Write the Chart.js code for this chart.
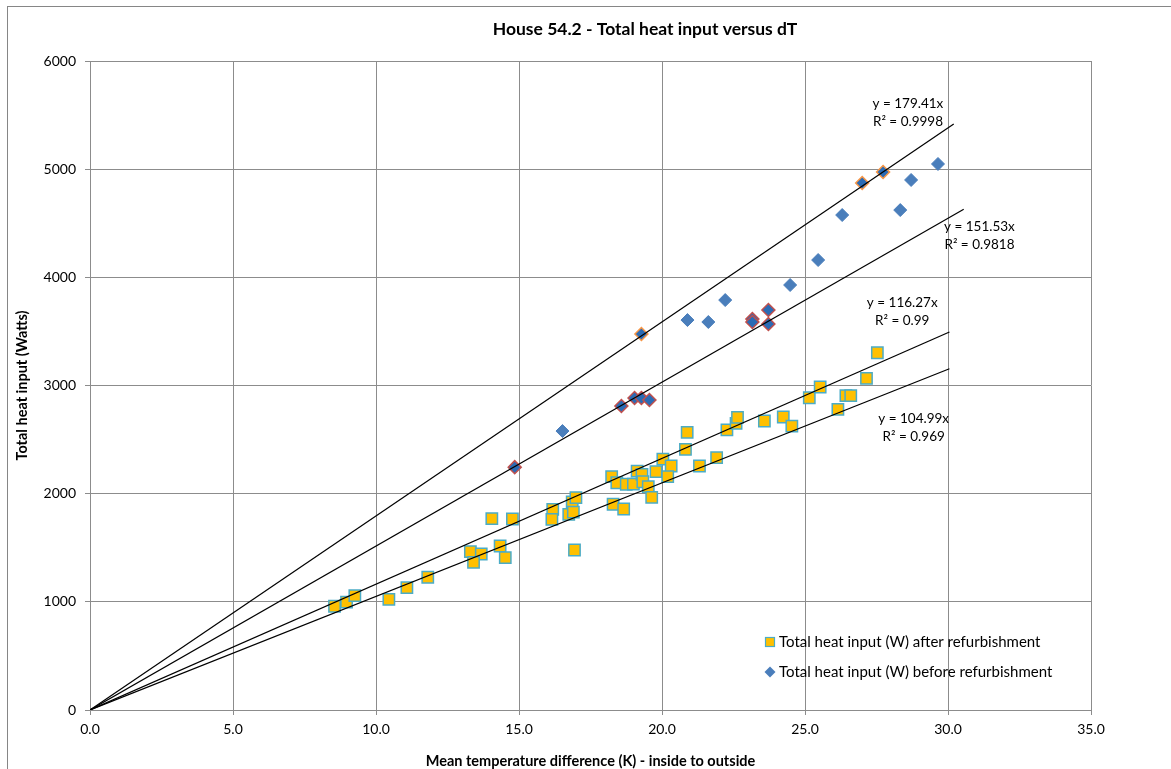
<!DOCTYPE html>
<html>
<head>
<meta charset="utf-8">
<title>House 54.2 - Total heat input versus dT</title>
<script src="https://cdn.jsdelivr.net/npm/chart.js@4.4.0/dist/chart.umd.min.js"></script>
<style>
  html, body { margin: 0; padding: 0; background: #fff; }
  canvas { display: block; }
</style>
</head>
<body>
<canvas id="grafico" width="1171" height="769"></canvas>
<script>
// after refurbishment (squares) : [dT, watts]
const afterRefurb = [
  [8.55, 959], [8.97, 998], [9.26, 1057], [10.45, 1023], [11.08, 1131], [11.81, 1227],
  [13.30, 1464], [13.68, 1442], [13.41, 1365], [14.05, 1769], [14.34, 1516], [14.52, 1408],
  [14.77, 1766], [16.18, 1855], [16.15, 1762], [16.74, 1808], [16.86, 1923], [16.99, 1963],
  [16.90, 1830], [16.94, 1479], [18.24, 2157], [18.42, 2101], [18.29, 1902], [18.66, 1858],
  [18.75, 2087], [19.00, 2089], [19.13, 2209], [19.30, 2179], [19.33, 2110], [19.52, 2065],
  [19.64, 1966], [19.79, 2203], [20.03, 2320], [20.32, 2256], [20.20, 2157], [20.88, 2567],
  [20.82, 2410], [21.31, 2256], [21.91, 2333], [22.27, 2589], [22.59, 2650], [22.64, 2705],
  [23.58, 2672], [24.24, 2709], [24.54, 2625], [25.15, 2887], [25.53, 2986], [26.15, 2780],
  [26.43, 2906], [26.60, 2906], [27.15, 3066], [27.53, 3303]
];

// before refurbishment (diamonds), split the same way as the workbook's series
const beforePlain = [
  [16.52, 2579], [20.89, 3605], [21.62, 3587], [22.21, 3790], [24.48, 3929],
  [25.46, 4160], [26.30, 4576], [28.33, 4622], [28.71, 4900], [29.65, 5048]
];
const beforeRed = [
  [14.85, 2245], [18.58, 2810], [19.04, 2884], [19.28, 2884], [19.56, 2866],
  [23.16, 3615], [23.16, 3587], [23.72, 3698], [23.72, 3568]
];
const beforeOrange = [
  [19.28, 3476], [27.00, 4872], [27.73, 4974]
];

// trendlines through origin
const trendSlopes = [179.41, 151.53, 116.27, 104.99];
const trendR2 = ['0.9998', '0.9818', '0.99', '0.969'];
const trendEndX = [30.2, 30.55, 30.05, 30.05];

const legendLabels = [
  'Total heat input (W) after refurbishment',
  'Total heat input (W) before refurbishment'
];

const FONT = "Lato, 'Open Sans', sans-serif";
const toPts = arr => arr.map(p => ({ x: p[0], y: p[1] }));

const squareStyle = {
  pointStyle: 'rect', pointRadius: 8, pointHoverRadius: 8,
  backgroundColor: '#FFC000', borderColor: '#4BACC6', borderWidth: 1.5, showLine: false
};
const diamondStyle = {
  pointStyle: 'rectRot', pointRadius: 6.5, pointHoverRadius: 6.5,
  backgroundColor: '#4A7EBB', borderColor: '#4A7EBB', borderWidth: 1, showLine: false
};

const datasets = [
  Object.assign({ label: legendLabels[0], data: toPts(afterRefurb), order: 2 }, squareStyle),
  Object.assign({ label: legendLabels[1], data: toPts(beforePlain), order: 2 }, diamondStyle),
  Object.assign({ label: 'before (a)', data: toPts(beforeRed), order: 2 }, diamondStyle,
    { backgroundColor: '#2A6BB5', borderColor: '#C0504D', borderWidth: 1.5 }),
  Object.assign({ label: 'before (b)', data: toPts(beforeOrange), order: 2 }, diamondStyle,
    { backgroundColor: '#2A6BB5', borderColor: '#F79646', borderWidth: 1.5 })
];

trendSlopes.forEach((m, i) => {
  datasets.push({
    type: 'line',
    label: 'trend ' + m,
    data: [{ x: 0, y: 0 }, { x: trendEndX[i], y: m * trendEndX[i] }],
    borderColor: '#000',
    borderWidth: 1.2,
    pointRadius: 0,
    pointHoverRadius: 0,
    fill: false,
    order: 1
  });
});

// text placement of trendline labels (centre x, first line y), in data units
const trendLabelAt = [[28.6, 5610], [31.1, 4470], [28.4, 3770], [28.8, 2690]];

const decorPlugin = {
  id: 'decor',
  afterDraw(chart) {
    const ctx = chart.ctx;
    const xs = chart.scales.x, ys = chart.scales.y;
    const area = chart.chartArea;
    ctx.save();

    // outer frame
    ctx.strokeStyle = '#868686';
    ctx.lineWidth = 1;
    ctx.strokeRect(7.5, 6.5, 1200, 800);

    ctx.fillStyle = '#000';
    ctx.textBaseline = 'middle';

    // chart title
    ctx.textAlign = 'center';
    ctx.font = 'bold 17.5px ' + FONT;
    ctx.fillText('House 54.2 - Total heat input versus dT', 645, 29);

    // axis titles
    ctx.font = 'bold 14.5px ' + FONT;
    ctx.fillText('Mean temperature difference (K) - inside to outside', (area.left + area.right) / 2, 761);
    ctx.save();
    ctx.translate(22, (area.top + area.bottom) / 2);
    ctx.rotate(-Math.PI / 2);
    ctx.fillText('Total heat input (Watts)', 0, 0);
    ctx.restore();

    // trendline equations
    ctx.font = '13.5px ' + FONT;
    trendSlopes.forEach((m, i) => {
      const px = xs.getPixelForValue(trendLabelAt[i][0]);
      const py = ys.getPixelForValue(trendLabelAt[i][1]);
      ctx.fillText('y = ' + m.toFixed(2) + 'x', px, py);
      ctx.fillText('R\u00B2 = ' + trendR2[i], px, py + 18);
    });

    // legend inside plot area
    ctx.textAlign = 'left';
    ctx.font = '15px ' + FONT;
    const lx = 770, ly = [642, 672];
    ctx.fillStyle = '#FFC000';
    ctx.strokeStyle = '#4BACC6';
    ctx.lineWidth = 1.2;
    ctx.fillRect(lx - 4.5, ly[0] - 4.5, 9, 9);
    ctx.strokeRect(lx - 4.5, ly[0] - 4.5, 9, 9);
    ctx.fillStyle = '#4A7EBB';
    ctx.beginPath();
    ctx.moveTo(lx, ly[1] - 5.5);
    ctx.lineTo(lx + 5.5, ly[1]);
    ctx.lineTo(lx, ly[1] + 5.5);
    ctx.lineTo(lx - 5.5, ly[1]);
    ctx.closePath();
    ctx.fill();
    ctx.fillStyle = '#000';
    ctx.fillText(legendLabels[0], lx + 9, ly[0]);
    ctx.fillText(legendLabels[1], lx + 9, ly[1]);

    ctx.restore();
  }
};

const ctx = document.getElementById('grafico').getContext('2d');
new Chart(ctx, {
  type: 'scatter',
  data: { datasets: datasets },
  options: {
    responsive: false,
    animation: false,
    layout: { padding: { top: 61, right: 80, left: 0, bottom: 0 } },
    plugins: { legend: { display: false }, title: { display: false }, tooltip: { enabled: false } },
    scales: {
      x: {
        type: 'linear', min: 0, max: 35,
        afterFit: s => { s.height = 59; },
        ticks: {
          stepSize: 5, padding: 6, color: '#000', font: { family: FONT, size: 14 },
          callback: v => v.toFixed(1)
        },
        grid: { color: '#8C8C8C', lineWidth: 1, tickLength: 5 },
        border: { color: '#8C8C8C' }
      },
      y: {
        type: 'linear', min: 0, max: 6000,
        afterFit: s => { s.width = 90; },
        ticks: {
          stepSize: 1000, padding: 9, color: '#000', font: { family: FONT, size: 14 },
          callback: v => String(v)
        },
        grid: { color: '#8C8C8C', lineWidth: 1, tickLength: 5 },
        border: { color: '#8C8C8C' }
      }
    }
  },
  plugins: [decorPlugin]
});
</script>
</body>
</html>
